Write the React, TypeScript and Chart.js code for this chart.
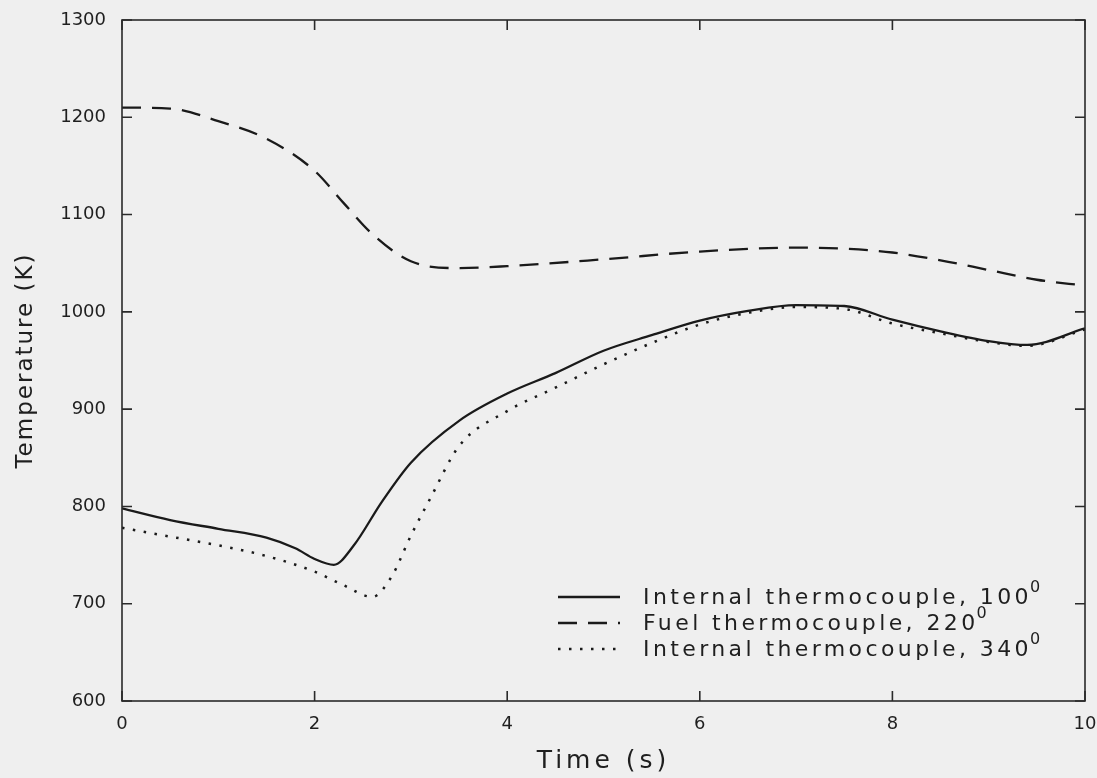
import React, { useEffect, useRef } from 'react';
import { Chart, registerables } from 'chart.js';

Chart.register(...registerables);

// ---- data ----
const xTickValues = [0, 2, 4, 6, 8, 10];
const yTickValues = [600, 700, 800, 900, 1000, 1100, 1200, 1300];

const int100Time = [0, 0.5, 1, 1.5, 1.8, 2.0, 2.2, 2.4, 2.7, 3, 3.5, 4, 4.5, 5, 5.5, 6, 6.5, 7, 7.5, 8, 8.5, 9, 9.4, 10];
const int100Temp = [798, 786, 777, 768, 757, 746, 740, 759, 805, 845, 888, 916, 937, 960, 976, 991, 1001, 1007, 1006, 992, 980, 970, 966, 983];

const fuelTime = [0, 0.5, 1, 1.5, 2, 2.3, 2.6, 3, 3.5, 4, 5, 6, 7, 7.5, 8, 8.5, 9, 9.5, 10];
const fuelTemp = [1210, 1209, 1196, 1178, 1145, 1112, 1080, 1052, 1045, 1047, 1054, 1062, 1066, 1065, 1061, 1053, 1043, 1033, 1027];

const int340Time = [0, 0.5, 1, 1.5, 2, 2.3, 2.6, 2.8, 3, 3.2, 3.5, 4, 4.5, 5, 5.5, 6, 6.5, 7, 7.5, 8, 8.5, 9, 9.4, 10];
const int340Temp = [778, 769, 760, 749, 733, 719, 707, 728, 770, 808, 862, 898, 922, 946, 968, 987, 999, 1005, 1003, 988, 978, 969, 965, 982];

const seriesLabels = ['Internal thermocouple, 100⁰', 'Fuel thermocouple, 220⁰', 'Internal thermocouple, 340⁰'];
const xTitle = 'Time (s)';
const yTitle = 'Temperature (K)';

const INK = '#1a1a1a';
const TEXT = '#1f1f1f';
const BG = '#efefef';
const FONT = "'DejaVu Sans', sans-serif";

const toPoints = (xs: number[], ys: number[]) => xs.map((x, i) => ({ x, y: ys[i] }));

// spaced-out axis titles (plotter lettering)
const titleSpacingPlugin = {
  id: 'titleSpacing',
  beforeDraw(chart: any) {
    Object.values(chart.scales).forEach((s: any) => {
      if (s.__wrapped) return;
      const orig = s.drawTitle.bind(s);
      s.drawTitle = function () {
        const ctx = chart.ctx;
        ctx.save();
        ctx.letterSpacing = s.axis === 'x' ? '4px' : '2px';
        orig();
        ctx.restore();
      };
      s.__wrapped = true;
    });
  },
};

const framePlugin = {
  id: 'frameTicks',
  afterDraw(chart: any) {
    const { ctx, chartArea: a, scales } = chart;
    const x = scales.x;
    const y = scales.y;
    ctx.save();
    ctx.strokeStyle = '#2a2a2a';
    ctx.lineWidth = 1.6;
    ctx.strokeRect(a.left, a.top, a.right - a.left, a.bottom - a.top);
    const len = 10;
    ctx.beginPath();
    xTickValues.forEach((v) => {
      const px = x.getPixelForValue(v);
      ctx.moveTo(px, a.bottom);
      ctx.lineTo(px, a.bottom - len);
      ctx.moveTo(px, a.top);
      ctx.lineTo(px, a.top + len);
    });
    yTickValues.forEach((v) => {
      const py = y.getPixelForValue(v);
      ctx.moveTo(a.left, py);
      ctx.lineTo(a.left + len, py);
      ctx.moveTo(a.right, py);
      ctx.lineTo(a.right - len, py);
    });
    ctx.stroke();
    ctx.restore();
  },
};

const legendPlugin = {
  id: 'insideLegend',
  afterDraw(chart: any) {
    const { ctx } = chart;
    const sets = chart.data.datasets;
    const lineX0 = 558;
    const lineX1 = 620;
    const textX = 643;
    const rowY = [597, 623, 649];
    ctx.save();
    sets.forEach((ds: any, i: number) => {
      const yy = rowY[i];
      ctx.beginPath();
      ctx.strokeStyle = ds.borderColor;
      ctx.lineWidth = ds.borderWidth;
      ctx.lineCap = 'butt';
      ctx.setLineDash(ds.borderDash || []);
      ctx.moveTo(lineX0, yy);
      ctx.lineTo(lineX1, yy);
      ctx.stroke();
      ctx.setLineDash([]);
      let label: string = ds.label;
      let sup = '';
      if (label.endsWith('⁰')) {
        label = label.slice(0, -1);
        sup = '0';
      }
      ctx.fillStyle = TEXT;
      ctx.textBaseline = 'middle';
      ctx.textAlign = 'left';
      ctx.font = `22px ${FONT}`;
      ctx.letterSpacing = '3.4px';
      ctx.fillText(label, textX, yy + 1);
      const w = ctx.measureText(label).width;
      if (sup) {
        ctx.font = `16px ${FONT}`;
        ctx.letterSpacing = '0px';
        ctx.fillText(sup, textX + w - 2, yy - 9);
      }
      ctx.letterSpacing = '0px';
    });
    ctx.restore();
  },
};

export default function App() {
  const ref = useRef<HTMLCanvasElement | null>(null);

  useEffect(() => {
    if (!ref.current) return;
    const chart = new Chart(ref.current, {
      type: 'line',
      data: {
        datasets: [
          {
            label: seriesLabels[0],
            data: toPoints(int100Time, int100Temp),
            borderColor: INK,
            borderWidth: 2.3,
            pointRadius: 0,
            cubicInterpolationMode: 'monotone',
            fill: false,
          },
          {
            label: seriesLabels[1],
            data: toPoints(fuelTime, fuelTemp),
            borderColor: INK,
            borderWidth: 2.3,
            borderDash: [19, 11],
            pointRadius: 0,
            cubicInterpolationMode: 'monotone',
            fill: false,
          },
          {
            label: seriesLabels[2],
            data: toPoints(int340Time, int340Temp),
            borderColor: INK,
            borderWidth: 2.5,
            borderDash: [2.5, 8.5],
            pointRadius: 0,
            cubicInterpolationMode: 'monotone',
            fill: false,
          },
        ],
      },
      options: {
        animation: false,
        responsive: false,
        layout: { padding: { left: 0, right: 12, top: 20, bottom: 0 } },
        plugins: { legend: { display: false }, tooltip: { enabled: false } },
        scales: {
          x: {
            type: 'linear',
            min: 0,
            max: 10,
            grid: { display: false, drawTicks: false },
            border: { display: false },
            afterBuildTicks: (s: any) => {
              s.ticks = xTickValues.map((v) => ({ value: v }));
            },
            afterFit: (s: any) => {
              s.height = 77;
              s.paddingLeft = 0;
              s.paddingRight = 0;
            },
            ticks: { color: TEXT, font: { family: FONT, size: 18 }, padding: 13, maxRotation: 0 },
            title: {
              display: true,
              text: xTitle,
              color: TEXT,
              font: { family: FONT, size: 25 },
              padding: { top: 0, bottom: 2 },
            },
          },
          y: {
            type: 'linear',
            min: 600,
            max: 1300,
            grid: { display: false, drawTicks: false },
            border: { display: false },
            afterBuildTicks: (s: any) => {
              s.ticks = yTickValues.map((v) => ({ value: v }));
            },
            afterFit: (s: any) => {
              s.width = 122;
              s.paddingTop = 0;
              s.paddingBottom = 0;
            },
            ticks: {
              color: TEXT,
              font: { family: FONT, size: 18 },
              padding: 16,
              callback: (v: any) => String(v),
            },
            title: {
              display: true,
              text: yTitle,
              color: TEXT,
              font: { family: FONT, size: 23 },
              padding: { top: 12, bottom: 0 },
            },
          },
        },
      },
      plugins: [titleSpacingPlugin, framePlugin, legendPlugin],
    } as any);
    return () => chart.destroy();
  }, []);

  return (
    <div style={{ position: 'absolute', left: 0, top: 0, width: 1097, height: 778, background: BG }}>
      <canvas ref={ref} width={1097} height={778} style={{ display: 'block' }} />
    </div>
  );
}
